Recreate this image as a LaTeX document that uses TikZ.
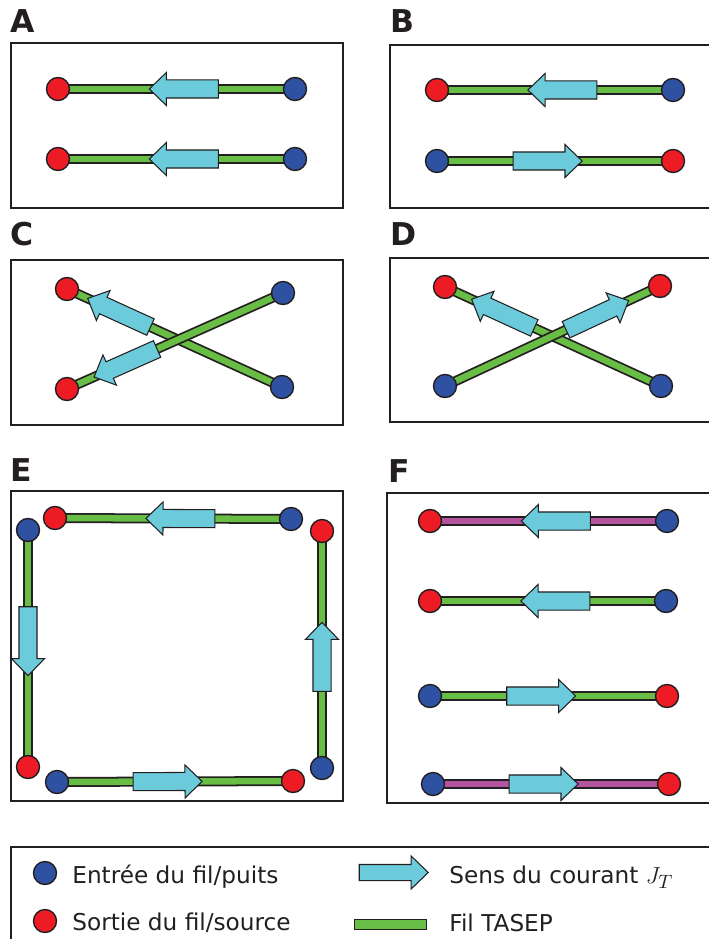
\RequirePackage{fix-cm}
\documentclass[tikz,border=0pt]{standalone}
\usepackage{fontspec}
\setmainfont{DejaVu Sans}
\DeclareMathSizes{13.2}{13.2}{11}{9}
\usetikzlibrary{shapes.arrows,backgrounds}
\definecolor{frame}{HTML}{231F20}
\definecolor{outred}{HTML}{ED1C24}
\definecolor{inblue}{HTML}{2E51A2}
\definecolor{wiregreen}{HTML}{68BD45}
\definecolor{wirepurple}{HTML}{B4549F}
\definecolor{flowcyan}{HTML}{6CCBDB}

\begin{document}
\begin{tikzpicture}[x=0.02cm, y=-0.02cm,
  panel/.style={draw=frame, line width=1.1pt},
  tag/.style={anchor=base west, font=\fontsize{17.9}{20}\selectfont\bfseries, text=frame, inner sep=0pt},
  src/.style={circle, draw=frame, line width=0.8pt, fill=outred, minimum size=0.46cm, inner sep=0pt},
  sink/.style={src, fill=inblue},
  wire/.style={draw=frame, line width=1pt, double=wiregreen, double distance=0.13cm},
  wirep/.style={wire, double=wirepurple},
  flow/.style={single arrow, draw=frame, line width=0.6pt, fill=flowcyan, inner xsep=0pt, inner ysep=0.17cm,
    minimum height=1.38cm, single arrow head extend=0.15cm, single arrow tip angle=88, anchor=tip},
  onwire/.style={sloped, allow upside down, pos=#1},
  legend/.style={anchor=base west, font=\fontsize{13.2}{16}\selectfont, text=frame, inner sep=0pt}]
\useasboundingbox (0,0) rectangle (709,939);
\clip (0,0) rectangle (709,939);

% A: two wires, same sense
\node[tag] (tA) at (10,33) {A};
\draw[panel] (11,43) rectangle (343,208);
\node[src] (a1r) at (58,89) {};
\node[sink] (a1b) at (295,89) {};
\node[src] (a2r) at (58,159) {};
\node[sink] (a2b) at (295,159) {};

% B: opposite senses
\node[tag] (tB) at (390,33) {B};
\draw[panel] (390,45) rectangle (715,208);
\node[src] (b1r) at (437,90) {};
\node[sink] (b1b) at (673,90) {};
\node[sink] (b2b) at (437,161) {};
\node[src] (b2r) at (673,161) {};

% C
\node[tag] (tC) at (10,245) {C};
\draw[panel] (11,260) rectangle (343,425);
\node[src] (c1r) at (67,289) {};
\node[sink] (c1b) at (282,387) {};
\node[sink] (c2b) at (283,293) {};
\node[src] (c2r) at (67,389) {};

% D
\node[tag] (tD) at (390,245) {D};
\draw[panel] (390,258) rectangle (715,422);
\node[src] (d1r) at (445,287) {};
\node[sink] (d1b) at (661,386) {};
\node[sink] (d2b) at (445,386) {};
\node[src] (d2r) at (660,286) {};

% E: closed loop
\node[tag] (tE) at (10,481) {E};
\draw[panel] (11,491) rectangle (343,801);
\node[src] (e1r) at (55,518) {};
\node[sink] (e1b) at (291,519) {};
\node[sink] (e2b) at (28,530) {};
\node[src] (e2r) at (28,767) {};
\node[sink] (e3b) at (57,782) {};
\node[src] (e3r) at (293,781) {};
\node[src] (e4r) at (322,531) {};
\node[sink] (e4b) at (322,768) {};

% F: two kinds of wire
\node[tag] (tF) at (388,482) {F};
\draw[panel] (387,493) rectangle (715,803);
\node[src] (f1r) at (430,521) {};
\node[sink] (f1b) at (667,521) {};
\node[src] (f2r) at (430,601) {};
\node[sink] (f2b) at (666,601) {};
\node[sink] (f3b) at (430,696) {};
\node[src] (f3r) at (667,696) {};
\node[sink] (f4b) at (433,784) {};
\node[src] (f4r) at (669,784) {};

% wires and currents, under the end points
\begin{pgfonlayer}{background}
\draw[wire] (a1b.center) -- (a1r.center) node[flow, onwire=0.618] (a1j) {};
\draw[wire] (a2b.center) -- (a2r.center) node[flow, onwire=0.618] (a2j) {};
\draw[wire] (b1b.center) -- (b1r.center) node[flow, onwire=0.618] (b1j) {};
\draw[wire] (b2b.center) -- (b2r.center) node[flow, onwire=0.618] (b2j) {};
\draw[wire] (c1b.center) -- (c1r.center) node[flow, onwire=0.907] (c1j) {};
\draw[wire] (c2b.center) -- (c2r.center) node[flow, onwire=0.878] (c2j) {};
\draw[wire] (d1b.center) -- (d1r.center) node[flow, onwire=0.88] (d1j) {};
\draw[wire] (d2b.center) -- (d2r.center) node[flow, onwire=0.857] (d2j) {};
\draw[wire] (e1b.center) -- (e1r.center) node[flow, onwire=0.618] (e1j) {};
\draw[wire] (e2b.center) -- (e2r.center) node[flow, onwire=0.618] (e2j) {};
\draw[wire] (e3b.center) -- (e3r.center) node[flow, onwire=0.618] (e3j) {};
\draw[wire] (e4b.center) -- (e4r.center) node[flow, onwire=0.618] (e4j) {};
\draw[wirep] (f1b.center) -- (f1r.center) node[flow, onwire=0.618] (f1j) {};
\draw[wire] (f2b.center) -- (f2r.center) node[flow, onwire=0.618] (f2j) {};
\draw[wire] (f3b.center) -- (f3r.center) node[flow, onwire=0.618] (f3j) {};
\draw[wirep] (f4b.center) -- (f4r.center) node[flow, onwire=0.618] (f4j) {};
\end{pgfonlayer}

% legend
\draw[panel] (11,847) rectangle (720,960);
\node[sink] (kin) at (45,873) {};
\node[src] (kout) at (45,921) {};
\node[legend] (tin) at (72,883) {Entrée du fil/puits};
\node[legend] (tout) at (72,930) {Sortie du fil/source};
\node[flow, inner ysep=0.15cm, single arrow head extend=0.17cm] (kflow) at (429,872.5) {};
\node[draw=frame, line width=0.8pt, fill=wiregreen, minimum width=1.44cm, minimum height=0.2cm, inner sep=0pt] (kwire) at (390.5,924.5) {};
\node[legend] (tflow) at (449,883) {Sens du courant $J_T$};
\node[legend] (twire) at (449,931) {Fil TASEP};
\end{tikzpicture}
\end{document}
